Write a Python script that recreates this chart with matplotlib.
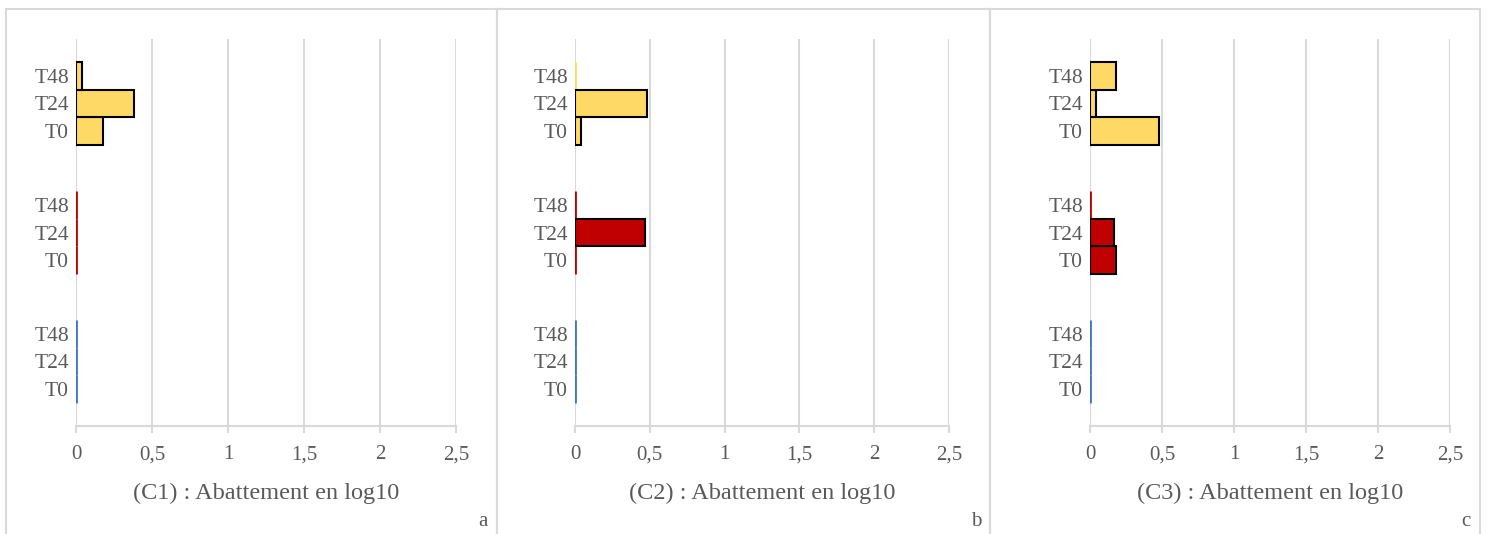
import numpy as np
import matplotlib
matplotlib.use("Agg")
import matplotlib.pyplot as plt
from matplotlib.patches import Rectangle

plt.rcParams['font.family'] = ['Liberation Serif', 'DejaVu Serif']

# donnees : abattement en log10 (T0, T24, T48) par groupe
temps = ['T0', 'T24', 'T48']
groupes = ['bleu', 'rouge', 'jaune']   # du bas vers le haut
couleurs = ['#4472C4', '#C00000', '#FFD966']

c1_bleu = [0, 0, 0]
c1_rouge = [0, 0, 0]
c1_jaune = [0.18, 0.38, 0.04]

c2_bleu = [0, 0, 0]
c2_rouge = [0, 0.47, 0]
c2_jaune = [0.04, 0.48, 0]

c3_bleu = [0, 0, 0]
c3_rouge = [0.18, 0.17, 0]
c3_jaune = [0.48, 0.04, 0.18]

panneaux = [
    ('(C1) : Abattement en log10', 'a', [c1_bleu, c1_rouge, c1_jaune]),
    ('(C2) : Abattement en log10', 'b', [c2_bleu, c2_rouge, c2_jaune]),
    ('(C3) : Abattement en log10', 'c', [c3_bleu, c3_rouge, c3_jaune]),
]

W, H = 1489, 534
fig = plt.figure(figsize=(W / 100, H / 100), dpi=100)

# cadres gris des trois graphiques (en pixels)
cadres = [(6, 497), (497, 990), (990, 1480)]
for x0, x1 in cadres:
    fig.patches.append(Rectangle((x0 / W, -0.05), (x1 - x0) / W, 1 - 9 / H + 0.05,
                                 transform=fig.transFigure, fill=False,
                                 edgecolor='#D9D9D9', lw=1.5))

# position des axes (pixels gauche, droite)
axes_px = [(76, 456), (575, 949), (1090, 1450)]
top, bottom = 39, 426
gris = '#595959'
h = 0.213
offsets = np.array([-h, 0, h])

for (titre, lettre, series), (xl, xr), (x0, x1) in zip(panneaux, axes_px, cadres):
    ax = fig.add_axes([xl / W, 1 - bottom / H, (xr - xl) / W, (bottom - top) / H])
    yticks, ylabels = [], []
    for g, (vals, col) in enumerate(zip(series, couleurs)):
        ys = g + offsets
        vals = np.array(vals)
        nz = vals > 0
        ax.barh(ys[nz], vals[nz], height=h, color=col, edgecolor='black',
                linewidth=1.5, zorder=3)
        # valeurs nulles : simple trait de la couleur de la serie
        ax.vlines(vals[~nz], ys[~nz] - h / 2, ys[~nz] + h / 2, color=col,
                  lw=2, zorder=2)
        yticks += list(ys)
        ylabels += temps
    ax.set_xlim(0, 2.5)
    ax.set_ylim(-0.5, 2.5)
    ax.set_xticks(np.arange(0, 2.51, 0.5))
    ax.set_xticklabels(['0', '0,5', '1', '1,5', '2', '2,5'])
    ax.set_yticks(yticks)
    ax.set_yticklabels(ylabels)
    ax.grid(axis='x', color='#D9D9D9', lw=1.5, zorder=0)
    for s in ['top', 'right', 'left']:
        ax.spines[s].set_visible(False)
    ax.spines['bottom'].set_color('#D9D9D9')
    ax.spines['bottom'].set_linewidth(1.5)
    ax.tick_params(axis='x', length=5, width=1.5, color='#D9D9D9', pad=9,
                   labelsize=15, labelcolor=gris)
    ax.tick_params(axis='y', length=0, pad=5, labelsize=15.5, labelcolor=gris)
    ax.set_xlabel(titre, fontsize=17.5, color=gris, labelpad=13)
    fig.text((x1 - 14) / W, 1 - 521 / H, lettre, fontsize=15, color=gris,
             ha='center', va='center')

fig.savefig('out.png', dpi=100)
